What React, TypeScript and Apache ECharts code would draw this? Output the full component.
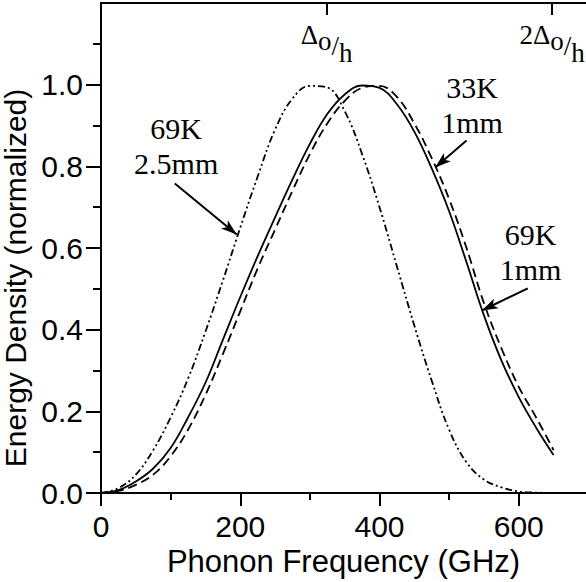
import React, { useEffect, useRef } from 'react';
import * as echarts from 'echarts';

// Phonon frequency grid (GHz)
const FREQ_GHZ = [0, 25, 50, 75, 100, 125, 150, 175, 200, 225, 250, 275, 300, 325, 350, 375, 400, 425, 450, 475, 500, 525, 550, 575, 600, 625, 650];
// 69K, 1mm (solid)
const SOLID_69K_1MM = [0, 0.007, 0.028, 0.06, 0.11, 0.185, 0.27, 0.375, 0.48, 0.58, 0.675, 0.768, 0.855, 0.928, 0.976, 0.998, 0.992, 0.952, 0.885, 0.795, 0.69, 0.565, 0.435, 0.325, 0.235, 0.16, 0.093];
// 33K, 1mm (dashed)
const DASHED_33K_1MM = [0, 0.005, 0.02, 0.045, 0.09, 0.155, 0.24, 0.34, 0.445, 0.55, 0.645, 0.74, 0.83, 0.905, 0.96, 0.992, 0.997, 0.97, 0.905, 0.82, 0.72, 0.6, 0.465, 0.355, 0.26, 0.185, 0.105];
// 69K, 2.5mm (dash-dot-dot)
const DASHDOT_69K_2P5MM = [0, 0.012, 0.045, 0.105, 0.185, 0.28, 0.395, 0.52, 0.65, 0.775, 0.89, 0.966, 0.997, 0.993, 0.935, 0.83, 0.7, 0.555, 0.41, 0.275, 0.155, 0.075, 0.033, 0.014, 0.004, 0.001, 0];

const X_TICKS = [0, 200, 400, 600];
const Y_TICKS = [0, 0.2, 0.4, 0.6, 0.8, 1.0];
const GAP_FREQ = 324; // Δo/h in GHz
const TOP_TICKS = [GAP_FREQ, 2 * GAP_FREQ];

const LABELS = ['69K\n2.5mm', '33K\n1mm', '69K\n1mm'];
const LABEL_AT = [[108, 0.851], [533, 0.951], [617, 0.589]];
const ARROW_FROM = [[106, 0.758], [525, 0.863], [613, 0.501]];
const ARROW_TO = [[195, 0.633], [480, 0.797], [547, 0.447]];

const SANS = 'Liberation Sans';
const SERIF = 'Liberation Serif';

export default function App() {
  const ref = useRef<HTMLDivElement>(null);
  useEffect(() => {
    if (!ref.current) return;
    const chart = echarts.init(ref.current, null, { renderer: 'svg' });
    const pts = (ys: number[]) => FREQ_GHZ.map((f, i) => [f, ys[i]]);
    const black = '#000';
    const tok = (pb: number) => ({ fontFamily: SERIF, fontSize: 27, color: black, verticalAlign: 'bottom', lineHeight: 27, padding: [0, 0, pb, 0] });
    const deltaRich = { d: tok(18), o: tok(12), s: tok(7), h: tok(0) };
    chart.setOption({
      animation: false,
      backgroundColor: '#fff',
      grid: { left: 101, top: 3, width: 557, height: 490, containLabel: false, outerBoundsMode: 'none' },
      xAxis: [
        {
          type: 'value', position: 'bottom', min: 0, max: 800, interval: 200,
          name: 'Phonon Frequency (GHz)', nameLocation: 'middle', nameGap: 52,
          nameTextStyle: { fontFamily: SANS, fontSize: 31, color: black, padding: [0, 72, 0, 0] },
          axisLine: { show: true, onZero: false, lineStyle: { color: black, width: 2 } },
          axisTick: { show: true, length: 13, customValues: X_TICKS, lineStyle: { color: black, width: 2 } },
          minorTick: { show: true, splitNumber: 2, length: 7, lineStyle: { color: black, width: 2 } },
          axisLabel: { show: true, customValues: X_TICKS, margin: 18, fontFamily: SANS, fontSize: 30, color: black, formatter: (v: number) => String(v) },
          splitLine: { show: false }, minorSplitLine: { show: false },
        },
        {
          type: 'value', position: 'top', min: 0, max: 800, interval: 200,
          axisLine: { show: true, onZero: false, lineStyle: { color: black, width: 2 } },
          axisTick: { show: true, inside: true, length: 12, customValues: TOP_TICKS, lineStyle: { color: black, width: 2 } },
          axisLabel: {
            show: true, inside: true, margin: 36, customValues: TOP_TICKS,
            formatter: (v: number) => (v > GAP_FREQ * 1.5 ? '{d|2Δ}' : '{d|Δ}') + '{o|o}{s|/}{h|h}',
            rich: deltaRich,
          },
          splitLine: { show: false },
        },
      ],
      yAxis: {
        type: 'value', min: 0, max: 1.2, interval: 0.2,
        name: 'Energy Density (normalized)', nameLocation: 'middle', nameGap: 57,
        nameTextStyle: { fontFamily: SANS, fontSize: 30, color: black, padding: [0, 60, 0, 0] },
        axisLine: { show: true, onZero: false, lineStyle: { color: black, width: 2 } },
        axisTick: { show: true, length: 15, customValues: Y_TICKS, lineStyle: { color: black, width: 2 } },
        minorTick: { show: true, splitNumber: 2, length: 8, lineStyle: { color: black, width: 2 } },
        axisLabel: { show: true, customValues: Y_TICKS, margin: 18, fontFamily: SANS, fontSize: 30, color: black, formatter: (v: number) => v.toFixed(1) },
        splitLine: { show: false }, minorSplitLine: { show: false },
      },
      series: [
        {
          name: '69K 1mm', type: 'line', data: pts(SOLID_69K_1MM), showSymbol: false, smooth: 0.4,
          lineStyle: { color: black, width: 1.8, type: 'solid' },
          markPoint: {
            silent: true, symbol: 'circle', symbolSize: 0, itemStyle: { color: 'transparent' },
            label: { show: true, position: 'inside', formatter: '{b}', fontFamily: SERIF, fontSize: 30, lineHeight: 35, color: black, align: 'center' },
            data: LABELS.map((t, i) => ({ name: t, coord: LABEL_AT[i] })),
          },
          markLine: {
            silent: true, symbol: ['none', 'arrow'],
            lineStyle: { color: black, width: 2, type: 'solid' },
            label: { show: false },
            data: ARROW_FROM.map((a, i) => [
              { coord: a, symbol: 'none' },
              { coord: ARROW_TO[i], symbol: 'arrow', symbolSize: [8, 16] },
            ]),
          },
        },
        {
          name: '33K 1mm', type: 'line', data: pts(DASHED_33K_1MM), showSymbol: false, smooth: 0.4,
          lineStyle: { color: black, width: 1.8, type: [9, 5] },
        },
        {
          name: '69K 2.5mm', type: 'line', data: pts(DASHDOT_69K_2P5MM), showSymbol: false, smooth: 0.4,
          lineStyle: { color: black, width: 1.8, type: [7, 3, 2, 3, 2, 3] },
        },
      ],
    });
    return () => chart.dispose();
  }, []);
  return <div ref={ref} style={{ position: 'fixed', left: 0, top: 0, width: 586, height: 582 }} />;
}
